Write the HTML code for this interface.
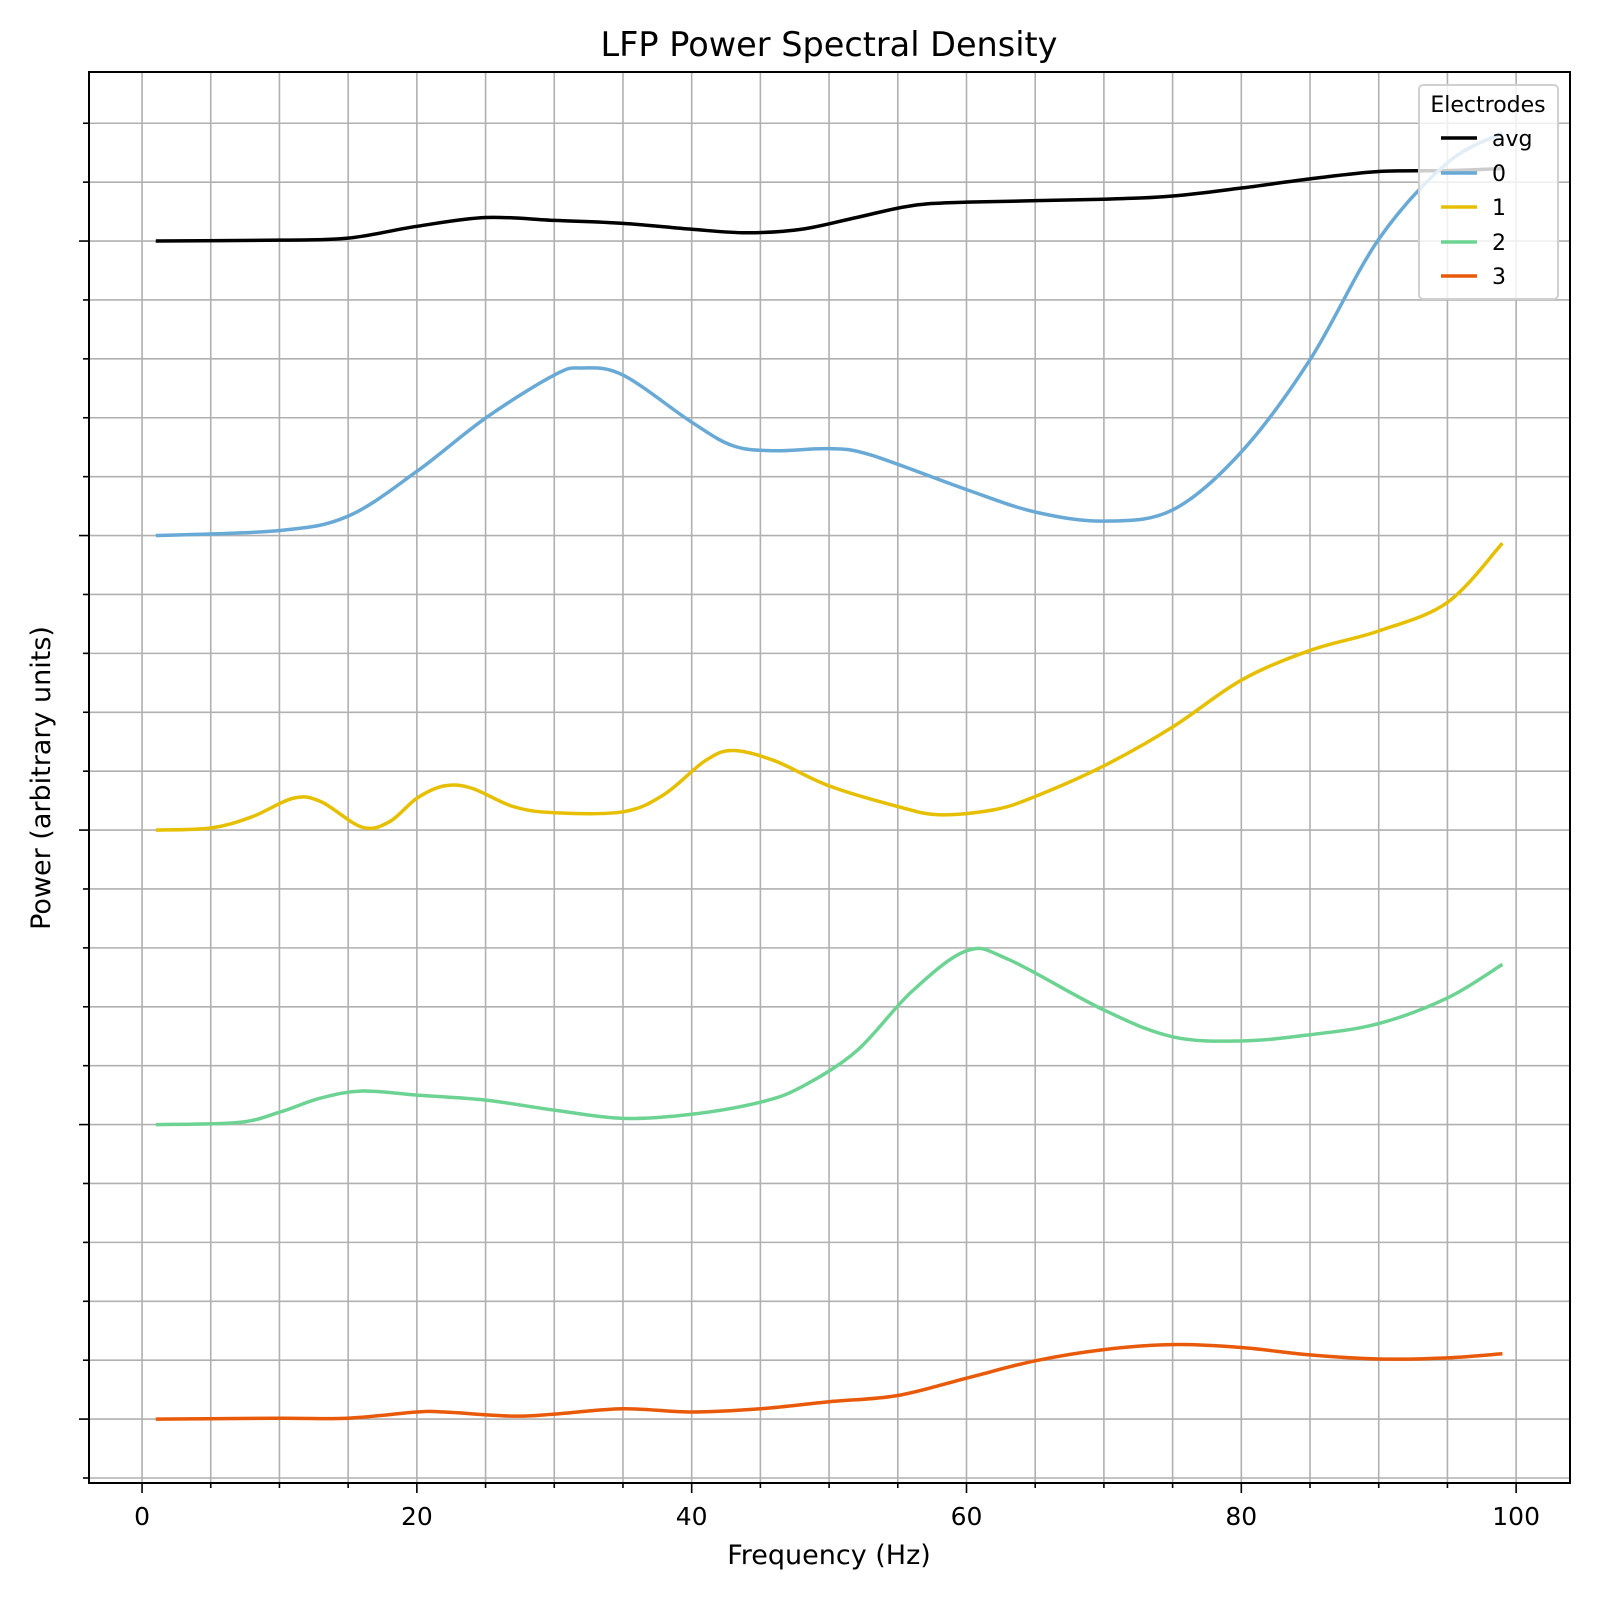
<!DOCTYPE html>
<html><head><meta charset="utf-8">
<style>
body{margin:0;background:#fff;}
svg{display:block;font-family:"DejaVu Sans","Liberation Sans",sans-serif;}
</style></head>
<body>
<svg id="chart" width="1600" height="1600" viewBox="0 0 1600 1600" xmlns="http://www.w3.org/2000/svg">
<rect x="0" y="0" width="1600" height="1600" fill="#fff"/>
<g id="grid"></g>
<g id="series"></g>
<rect x="89" y="72" width="1481" height="1411" fill="none" stroke="#000" stroke-width="2"/>
<g id="ticks"></g>
<text x="829" y="56" text-anchor="middle" font-size="33.5">LFP Power Spectral Density</text>
<text x="829" y="1564" text-anchor="middle" font-size="27">Frequency (Hz)</text>
<text transform="translate(50,778) rotate(-90)" text-anchor="middle" font-size="27">Power (arbitrary units)</text>
<g id="legend">
<rect x="1419" y="85" width="139" height="214" rx="4" fill="#fff" fill-opacity="0.8" stroke="#d0d0d0" stroke-width="2"/>
<text x="1488" y="112" text-anchor="middle" font-size="22">Electrodes</text>
</g>
</svg>
<script>
const categories = ["avg","0","1","2","3"];
const colors = ["#000000","#68a9d6","#e6c000","#6dd393","#e85a0a"];
const offsets = [4,3,2,1,0];
const freqAvg = [1,10,15,20,25,30,35,40,44,48,52,56,60,70,75,80,85,90,95,99];
const valAvg = [0,0.003,0.01,0.05,0.08,0.07,0.06,0.04,0.028,0.04,0.08,0.12,0.132,0.142,0.153,0.18,0.211,0.236,0.239,0.246];
const freq0 = [1,10,15,20,25,30,32,35,40,43,46,50,53,60,65,70,75,80,85,90,95,99];
const val0 = [0,0.017,0.066,0.218,0.399,0.545,0.569,0.545,0.385,0.305,0.288,0.295,0.274,0.156,0.08,0.049,0.087,0.284,0.597,1.006,1.266,1.367];
const freq1 = [1,5,8,11,13,16,18,20,22,24,27,30,35,38,41,43,46,50,55,58,62,65,70,75,80,85,90,95,99];
const val1 = [0,0.007,0.045,0.108,0.097,0.01,0.028,0.108,0.15,0.142,0.08,0.059,0.062,0.121,0.236,0.27,0.236,0.15,0.08,0.052,0.069,0.114,0.218,0.35,0.509,0.61,0.676,0.773,0.974];
const freq2 = [1,7,10,13,16,20,25,30,35,40,45,48,52,56,60,63,70,75,80,85,90,95,99];
const val2 = [0,0.007,0.042,0.09,0.114,0.1,0.083,0.049,0.021,0.035,0.076,0.128,0.25,0.451,0.59,0.562,0.389,0.298,0.284,0.305,0.343,0.43,0.544];
const freq3 = [1,10,15,20,22,27,30,35,40,45,50,55,60,65,70,75,80,85,90,95,99];
const val3 = [0,0.003,0.003,0.024,0.024,0.01,0.017,0.035,0.024,0.035,0.059,0.08,0.139,0.198,0.236,0.253,0.243,0.218,0.204,0.208,0.222];
const xTickLabels = [0,20,40,60,80,100];

const NS="http://www.w3.org/2000/svg";
const L=89,R=1570,T=72,B=1483;
const xMin=-3.86,xMax=103.92,yMin=-0.217,yMax=4.574;
const xs=v=>L+(v-xMin)/(xMax-xMin)*(R-L);
const ys=v=>B-(v-yMin)/(yMax-yMin)*(B-T);
function mk(tag,attrs,parent){const e=document.createElementNS(NS,tag);for(const k in attrs)e.setAttribute(k,attrs[k]);parent.appendChild(e);return e;}
const grid=document.getElementById('grid'),ticks=document.getElementById('ticks');
for(let f=0;f<=100;f+=5){
  const x=xs(f);
  const g=mk('line',{x1:x,x2:x,y1:T,y2:B,stroke:'#b0b0b0','stroke-width':1.6},grid);
  
  
  const major=f%20===0;
  const t=mk('line',{x1:x,x2:x,y1:B,y2:B+(major?10:5),stroke:'#000','stroke-width':1.6},ticks);
  
  
}
xTickLabels.forEach(v=>{
  const t=mk('text',{x:xs(v),y:1525,'text-anchor':'middle','font-size':25},ticks);
  t.textContent=v;
  
  
});
for(let i=-1;i<=23;i++){
  const v=i*0.2;
  if(v<yMin||v>yMax)continue;
  const y=ys(v);
  const g=mk('line',{x1:L,x2:R,y1:y,y2:y,stroke:'#b0b0b0','stroke-width':1.6},grid);
  
  
  const major=i%5===0;
  const t=mk('line',{x1:L,x2:L-(major?10:6),y1:y,y2:y,stroke:'#000','stroke-width':1.6},ticks);
  
  
}
function pathFor(fr,vals,off){
  const p=fr.map((f,i)=>[xs(f),ys(vals[i]+off)]);
  let d=`M${p[0][0]},${p[0][1]}`;
  for(let i=0;i<p.length-1;i++){
    const p0=p[Math.max(0,i-1)],p1=p[i],p2=p[i+1],p3=p[Math.min(p.length-1,i+2)];
    const c1=[p1[0]+(p2[0]-p0[0])/6,p1[1]+(p2[1]-p0[1])/6];
    const c2=[p2[0]-(p3[0]-p1[0])/6,p2[1]-(p3[1]-p1[1])/6];
    d+=` C${c1[0]},${c1[1]} ${c2[0]},${c2[1]} ${p2[0]},${p2[1]}`;
  }
  return d;
}
const freqs=[freqAvg,freq0,freq1,freq2,freq3],vals=[valAvg,val0,val1,val2,val3];
const series=document.getElementById('series'),legend=document.getElementById('legend');
const legendY=[138,173,207,242,276];
categories.forEach((c,i)=>{
  const p=mk('path',{d:pathFor(freqs[i],vals[i],offsets[i]),fill:'none',stroke:colors[i],'stroke-width':3.5,'stroke-linejoin':'round'},series);
  
  
  const y=legendY[i];
  const ll=mk('line',{x1:1441,x2:1477,y1:y,y2:y,stroke:colors[i],'stroke-width':3.5},legend);
  
  
  const lt=mk('text',{x:1492,y:y+8,'font-size':22},legend);
  lt.textContent=c;
  
  
});
</script>
</body></html>
